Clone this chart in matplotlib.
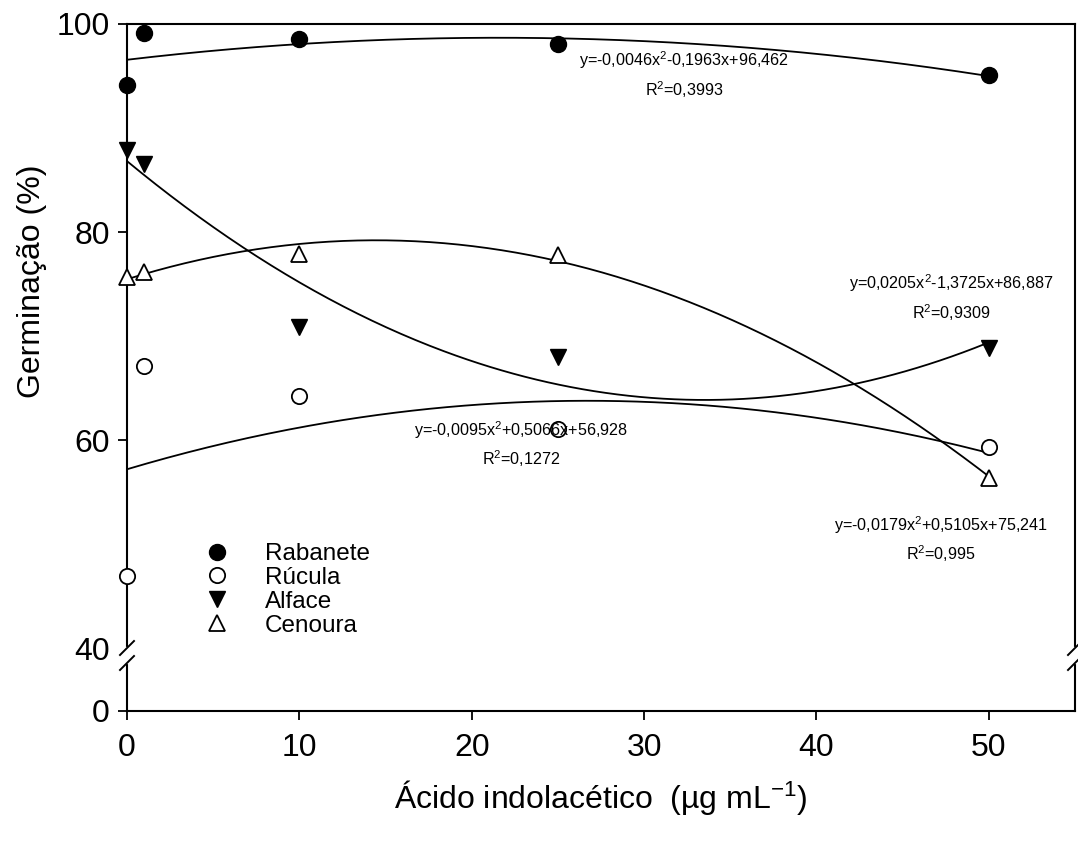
import numpy as np
import matplotlib
matplotlib.use("Agg")
import matplotlib.pyplot as plt

plt.rcParams.update({
    "font.family": ["Liberation Sans", "DejaVu Sans"],
    "mathtext.fontset": "custom",
    "mathtext.rm": "Liberation Sans",
    "mathtext.it": "Liberation Sans",
    "mathtext.default": "regular",
})

# data
dose = [0, 1, 10, 25, 50]
rabanete = [94.1, 99.1, 98.6, 98.1, 95.1]
rucula = [46.9, 67.1, 64.2, 61.1, 59.3]
alface = [87.9, 86.5, 70.9, 68.0, 68.9]
cenoura = [75.7, 76.2, 77.9, 77.8, 56.4]

series_names = ["Rabanete", "Rúcula", "Alface", "Cenoura"]
equations = [
    ("y=-0,0046x$^{2}$-0,1963x+96,462", "R$^{2}$=0,3993"),
    ("y=-0,0095x$^{2}$+0,5066x+56,928", "R$^{2}$=0,1272"),
    ("y=0,0205x$^{2}$-1,3725x+86,887", "R$^{2}$=0,9309"),
    ("y=-0,0179x$^{2}$+0,5105x+75,241", "R$^{2}$=0,995"),
]

# broken y axis: 0-40 squeezed
BREAK, LOW = 40.0, 0.151


def fwd(y):
    y = np.asarray(y, dtype=float)
    return np.where(y < BREAK, y * LOW, BREAK * LOW + (y - BREAK))


def inv(v):
    v = np.asarray(v, dtype=float)
    return np.where(v < BREAK * LOW, v / LOW, v - BREAK * LOW + BREAK)


W, H = 1078, 850
AX_L, AX_R, AX_T, AX_B = 127, 1075, 24, 711


def frac(px, py):
    return (px - AX_L) / (AX_R - AX_L), (AX_B - py) / (AX_B - AX_T)


fig = plt.figure(figsize=(W / 100, H / 100), dpi=100)
ax = fig.add_axes([AX_L / W, 1 - AX_B / H, (AX_R - AX_L) / W, (AX_B - AX_T) / H])
ax.set_yscale("function", functions=(fwd, inv))
ax.set_xlim(0, 55)
ax.set_ylim(0, 100)
ax.set_xticks([0, 10, 20, 30, 40, 50])
ax.set_yticks([0, 40, 60, 80, 100])
ax.yaxis.set_minor_locator(matplotlib.ticker.NullLocator())
ax.tick_params(direction="out", length=6.5, width=1.3, labelsize=23, pad=6,
               top=False, right=False)
ax.tick_params(axis="x", pad=9)
ax.yaxis.get_major_ticks()[1].tick1line.set_visible(False)
for sp in ax.spines.values():
    sp.set_linewidth(1.5)

styles = [
    dict(marker="o", mfc="black", mec="black", ms=11.5),
    dict(marker="o", mfc="white", mec="black", ms=11, mew=1.3),
    dict(marker="v", mfc="black", mec="black", ms=12),
    dict(marker="^", mfc="white", mec="black", ms=12, mew=1.3),
]
xs = np.linspace(0, 50, 300)
for ys, name, st in zip([rabanete, rucula, alface, cenoura], series_names, styles):
    coef = np.polyfit(dose, ys, 2)
    ax.plot(xs, np.polyval(coef, xs), color="black", lw=1.3, zorder=2)
    ax.plot(dose, ys, ls="none", label=name, clip_on=False, zorder=3, **st)

# equation labels (centre positions in pixels)
eq_pos = [(684, 60, 90), (521, 430, 459), (951, 283, 313), (941, 525, 554)]
for (eq, r2), (cx, y1, y2) in zip(equations, eq_pos):
    fx, fy1 = frac(cx, y1)
    _, fy2 = frac(cx, y2)
    ax.text(fx, fy1, eq, transform=ax.transAxes, ha="center", va="center", fontsize=11.6)
    ax.text(fx, fy2, r2, transform=ax.transAxes, ha="center", va="center", fontsize=11.6)

leg = ax.legend(loc="upper left", bbox_to_anchor=(0.0823, 0.2445), frameon=False,
                fontsize=17.5, handlelength=1.0, handletextpad=1.45, labelspacing=0.08,
                borderpad=0, borderaxespad=0)

# axis break marks
y_hi = frac(0, 648)[1]
y_lo = frac(0, 663)[1]
dx, dy = 7 / (AX_R - AX_L), 7 / (AX_B - AX_T)
for xe in (0.0, 1.0):
    ax.plot([xe, xe], [y_lo + 0.002, y_hi - 0.002], color="white", lw=3,
            transform=ax.transAxes, clip_on=False, zorder=5)
    for yc in (y_lo, y_hi):
        ax.plot([xe - dx, xe + dx], [yc - dy, yc + dy], color="black", lw=1.4,
                transform=ax.transAxes, clip_on=False, zorder=6)

ax.set_xlabel("Ácido indolacético  (µg mL$^{-1}$)", fontsize=23, labelpad=11)
ax.set_ylabel("Germinação (%)", fontsize=23)
ax.yaxis.set_label_coords(-0.084, 0.625)

fig.savefig("out.png", dpi=100)
